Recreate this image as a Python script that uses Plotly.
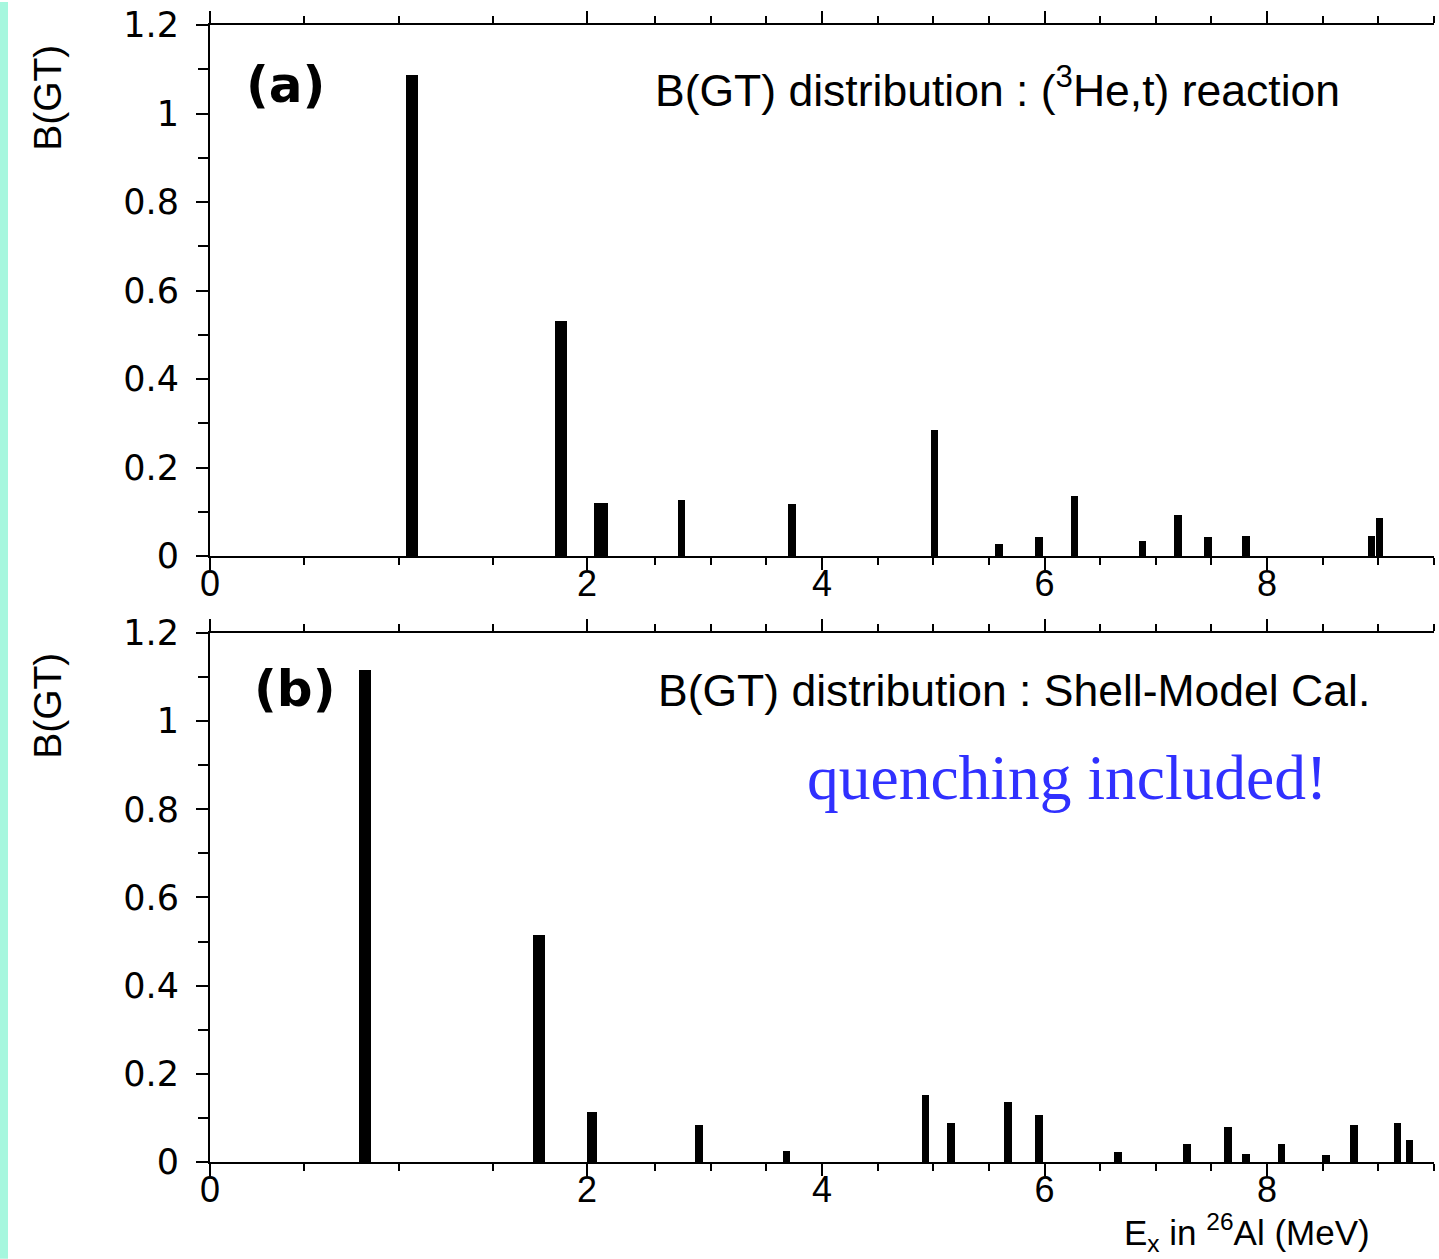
import plotly.graph_objects as go

# ---------------- data ----------------
# (a) (3He,t) reaction
EX_A = [1.07, 1.86, 2.10, 2.74, 3.73, 5.01, 5.59, 5.95, 6.27, 6.88, 7.20, 7.47, 7.81, 8.94, 9.01]
BGT_A = [1.087, 0.531, 0.120, 0.126, 0.118, 0.285, 0.027, 0.043, 0.135, 0.033, 0.093, 0.043, 0.046, 0.046, 0.085]
# (b) shell-model calculation
EX_B = [0.82, 1.745, 2.02, 2.895, 3.68, 4.93, 5.16, 5.67, 5.95, 6.66, 7.28, 7.65, 7.81, 8.13, 8.53, 8.78, 9.17, 9.28]
BGT_B = [1.116, 0.515, 0.114, 0.083, 0.026, 0.151, 0.089, 0.137, 0.106, 0.022, 0.040, 0.079, 0.019, 0.040, 0.015, 0.083, 0.089, 0.050]

Y_TICKS = [0, 0.2, 0.4, 0.6, 0.8, 1, 1.2]

# ---------------- layout geometry ----------------
W, H = 1439, 1259
L, R, T, B = 210, 5, 23, 97
PW, PH = W - L - R, H - T - B


def px(x):
    return (x - L) / PW


def py(y):
    return (H - B - y) / PH


# broken x axis: three linear segments as in the original figure
SEGMENTS = [(0.0, 2.0), (2.0, 2.5), (2.5, 9.5)]
SEG_DOM = [(px(210), px(587)), (px(587), px(655)), (px(655), px(1434))]
SEG_MAJOR = [[0], [2], [4, 6, 8]]
SEG_BAR_PX = [12, 14, 7.5]

PANEL_Y = [(py(555), py(23)), (py(1162), py(632))]

TICK_FONT_X = dict(family="Liberation Sans Narrow, Arial Narrow, Liberation Sans, Arial", size=36, color="black")
TICK_FONT_Y = dict(family="DejaVu Sans, Verdana, sans-serif", size=35, color="black")

fig = go.Figure()
layout = dict(
    width=W, height=H,
    margin=dict(l=L, r=R, t=T, b=B, pad=0),
    paper_bgcolor="white", plot_bgcolor="white",
    showlegend=False, bargap=0,
)

panels = [(EX_A, BGT_A), (EX_B, BGT_B)]
for p, (ex, bgt) in enumerate(panels):
    ynum = 2 * p + 1          # main y axis number for this panel
    yname = "y" if ynum == 1 else f"y{ynum}"
    ykey = "yaxis" if ynum == 1 else f"yaxis{ynum}"
    xnums = [3 * p + k + 1 for k in range(3)]
    for k, ((lo, hi), dom, major) in enumerate(zip(SEGMENTS, SEG_DOM, SEG_MAJOR)):
        xn = xnums[k]
        xname = "x" if xn == 1 else f"x{xn}"
        xkey = "xaxis" if xn == 1 else f"xaxis{xn}"
        layout[xkey] = dict(
            domain=list(dom), range=[lo, hi], anchor=yname,
            showline=True, linecolor="black", linewidth=2, mirror="ticks",
            ticks="outside", ticklen=12, tickwidth=2, tickcolor="black",
            tickmode="array", tickvals=major, ticktext=[str(v) for v in major],
            tickfont=TICK_FONT_X, ticklabelstandoff=-17,
            minor=dict(ticks="outside", ticklen=7, tickwidth=2, tickcolor="black",
                       tick0=0, dtick=0.5, showgrid=False),
            showgrid=False, zeroline=False, fixedrange=True,
        )
        sel = [(e, v) for e, v in zip(ex, bgt) if lo <= e < hi]
        if sel:
            unit_px = (dom[1] - dom[0]) * PW / (hi - lo)
            fig.add_trace(go.Bar(
                x=[s[0] for s in sel], y=[s[1] for s in sel],
                width=SEG_BAR_PX[k] / unit_px,
                marker=dict(color="black", line=dict(width=0)),
                xaxis=xname, yaxis=yname, hoverinfo="x+y",
            ))
    first_x = "x" if xnums[0] == 1 else f"x{xnums[0]}"
    last_x = f"x{xnums[2]}"
    layout[ykey] = dict(
        domain=list(PANEL_Y[p]), range=[0, 1.2], anchor=first_x,
        showline=True, linecolor="black", linewidth=2,
        ticks="outside", ticklen=12, tickwidth=2, tickcolor="black",
        tickmode="array", tickvals=Y_TICKS, ticktext=[f"{v:g}" for v in Y_TICKS],
        tickfont=TICK_FONT_Y, ticklabelstandoff=10,
        minor=dict(ticks="outside", ticklen=10, tickwidth=2, tickcolor="black",
                   tick0=0, dtick=0.1, showgrid=False),
        showgrid=False, zeroline=False, fixedrange=True,
    )
    rkey = f"yaxis{ynum + 1}"
    layout[rkey] = dict(
        overlaying=yname, anchor=last_x, side="right", range=[0, 1.2],
        showline=True, linecolor="black", linewidth=2,
        ticks="outside", ticklen=8, tickwidth=2, tickcolor="black",
        tickvals=Y_TICKS, showticklabels=False,
        showgrid=False, zeroline=False, fixedrange=True,
    )

fig.update_layout(**layout)

# light aquamarine strip on the far left edge
fig.add_shape(type="rect", xref="paper", yref="paper",
              x0=px(0), x1=px(8), y0=py(H), y1=py(0),
              fillcolor="#a6f7de", line=dict(width=0), layer="below")

SANS = "Liberation Sans, Arial, Helvetica, sans-serif"
WIDE = "DejaVu Sans, Verdana, sans-serif"
annotations = [
    dict(text="<b>(a)</b>", x=px(285), y=py(83), font=dict(family=WIDE, size=50, color="black"),
         xanchor="center", yanchor="middle"),
    dict(text="<b>(b)</b>", x=px(295), y=py(688), font=dict(family=WIDE, size=50, color="black"),
         xanchor="center", yanchor="middle"),
    dict(text="B(GT) distribution : (<sup>3</sup>He,t) reaction", x=px(653), y=py(85),
         font=dict(family=SANS, size=44.5, color="black"), xanchor="left", yanchor="middle"),
    dict(text="B(GT) distribution : Shell-Model Cal.", x=px(656), y=py(690),
         font=dict(family=SANS, size=44.5, color="black"), xanchor="left", yanchor="middle"),
    dict(text="quenching included!", x=px(805), y=py(777),
         font=dict(family="Liberation Serif, Times New Roman, serif", size=63.5, color="#3030ff"),
         xanchor="left", yanchor="middle"),
    dict(text="B(GT)", x=px(48), y=py(96), textangle=-90,
         font=dict(family=SANS, size=39, color="black"), xanchor="center", yanchor="middle"),
    dict(text="B(GT)", x=px(48), y=py(705), textangle=-90,
         font=dict(family=SANS, size=39, color="black"), xanchor="center", yanchor="middle"),
    dict(text="E<sub>x</sub> in <sup>26</sup>Al (MeV)", x=px(1123), y=py(1258),
         font=dict(family=SANS, size=35, color="black"), xanchor="left", yanchor="bottom",
         borderpad=0),
]
for a in annotations:
    a.update(xref="paper", yref="paper", showarrow=False)
fig.update_layout(annotations=annotations)

fig.write_html("out.html")
